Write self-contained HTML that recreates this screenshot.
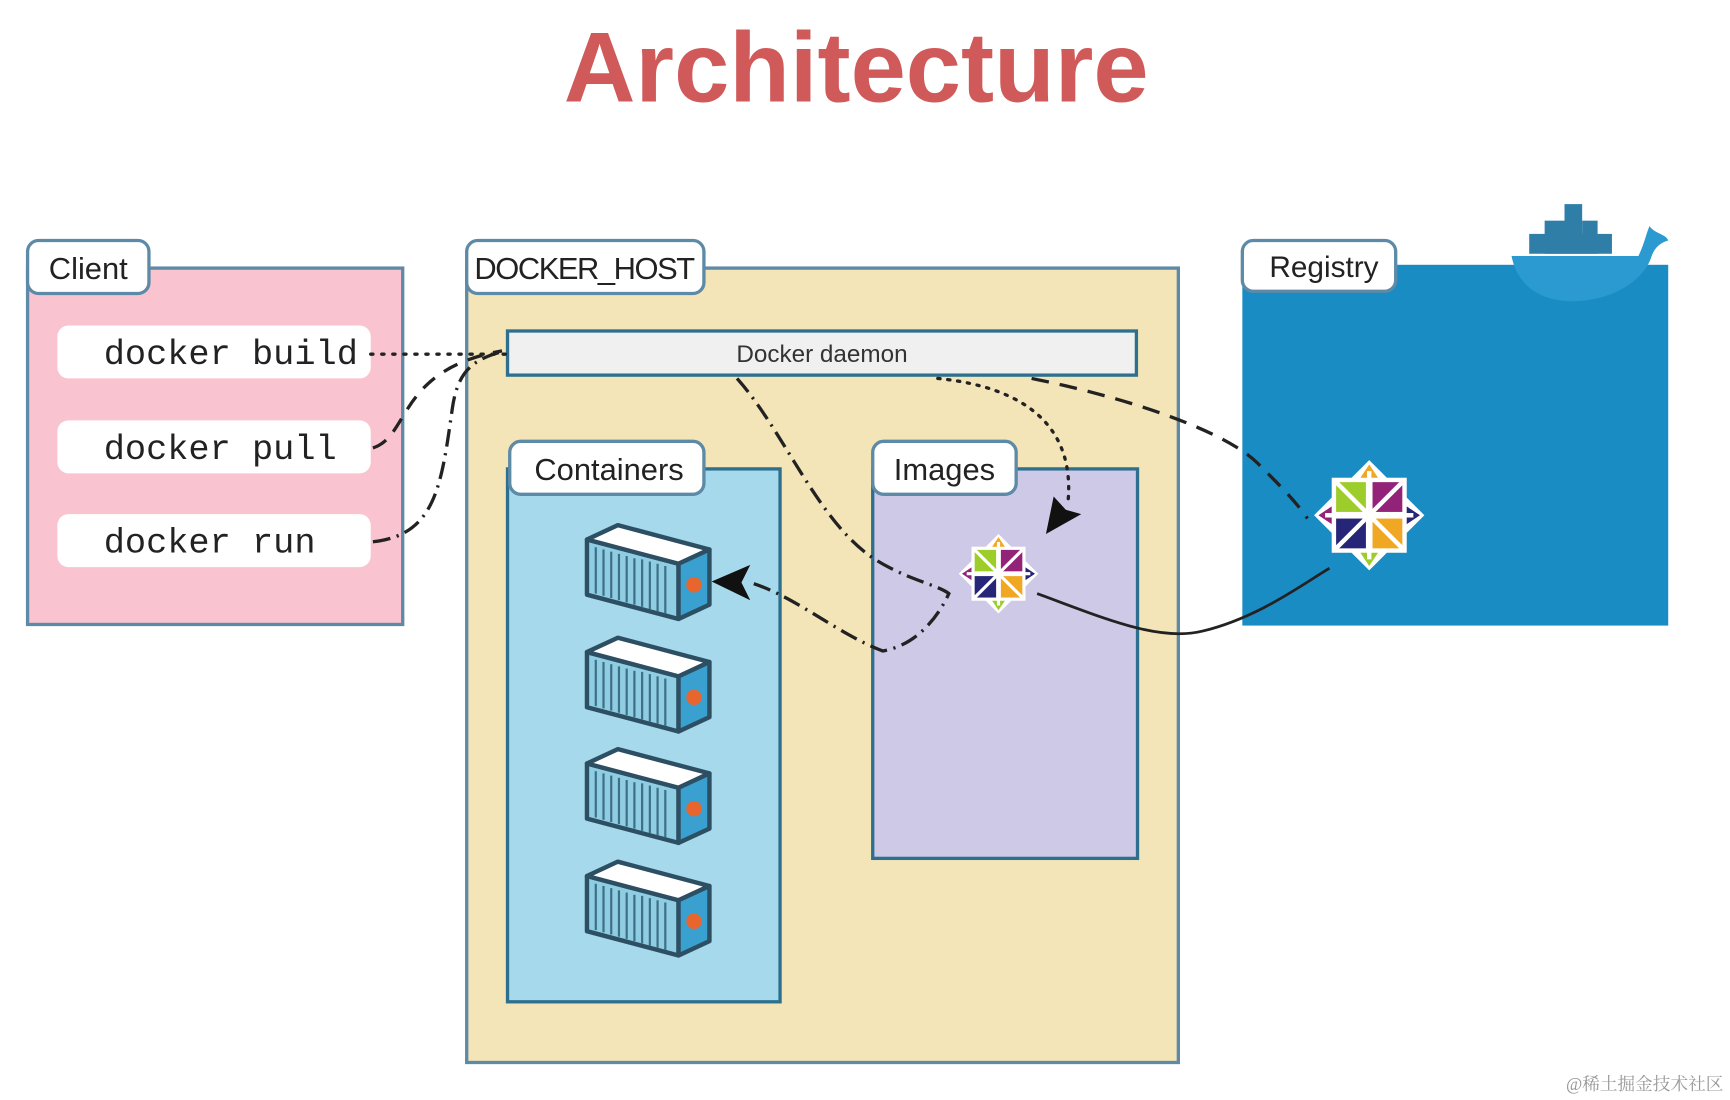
<!DOCTYPE html>
<html><head><meta charset="utf-8"><style>
html,body{margin:0;padding:0;background:#fff;}
svg{display:block;}
</style></head><body>
<svg width="1730" height="1100" viewBox="0 0 1568 997" preserveAspectRatio="none" xmlns="http://www.w3.org/2000/svg">
<defs>
<g id="cont">
  <polygon points="0,13 83,35 83,85 0,63" fill="#8fcde3" stroke="#2d4f63" stroke-width="4" stroke-linejoin="round"/>
  <g stroke="#3e6f86" stroke-width="2">
    <line x1="8" y1="20" x2="8" y2="62"/><line x1="15" y1="22" x2="15" y2="64"/><line x1="22" y1="24" x2="22" y2="66"/><line x1="29" y1="26" x2="29" y2="68"/><line x1="36" y1="28" x2="36" y2="70"/><line x1="43" y1="30" x2="43" y2="72"/><line x1="50" y1="31" x2="50" y2="74"/><line x1="57" y1="33" x2="57" y2="76"/><line x1="64" y1="35" x2="64" y2="78"/><line x1="71" y1="37" x2="71" y2="80"/>
  </g>
  <polygon points="0,13 28,0 111,22 83,35" fill="#fff" stroke="#2d4f63" stroke-width="4" stroke-linejoin="round"/>
  <polygon points="83,35 111,22 111,72 83,85" fill="#3aa0cf" stroke="#2d4f63" stroke-width="4" stroke-linejoin="round"/>
  <circle cx="97" cy="54" r="7" fill="#e8652e"/>
</g>
<g id="centos">
  <polygon points="0,-50 50,0 0,50 -50,0" fill="#fff"/>
  <rect x="-34" y="-34" width="68" height="68" fill="#fff"/>
  <rect x="-30" y="-30" width="27" height="27" fill="#9ccd2a"/>
  <rect x="3" y="-30" width="27" height="27" fill="#932279"/>
  <rect x="-30" y="3" width="27" height="27" fill="#262577"/>
  <rect x="3" y="3" width="27" height="27" fill="#efa724"/>
  <polygon points="0,-46 -8,-34 8,-34" fill="#efa724"/>
  <polygon points="46,0 34,-8 34,8" fill="#262577"/>
  <polygon points="0,46 -8,34 8,34" fill="#9ccd2a"/>
  <polygon points="-46,0 -34,-8 -34,8" fill="#932279"/>
  <g stroke="#fff" stroke-width="4">
    <line x1="-30" y1="-30" x2="30" y2="30"/><line x1="30" y1="-30" x2="-30" y2="30"/>
    <line x1="0" y1="-40" x2="0" y2="40"/><line x1="-40" y1="0" x2="40" y2="0"/>
  </g>
</g>
</defs>
<rect width="1568" height="997" fill="#fff"/>
<text x="776" y="92" text-anchor="middle" font-family="Liberation Sans, sans-serif" font-weight="bold" font-size="90" fill="#d05a5a">Architecture</text>

<!-- Client -->
<rect x="25" y="243" width="340" height="323" fill="#f9c3cf" stroke="#5d8aa6" stroke-width="3"/>
<rect x="25" y="218" width="110" height="48" rx="10" fill="#fff" stroke="#5d8aa6" stroke-width="3"/>
<text x="80" y="253" text-anchor="middle" font-family="Liberation Sans, sans-serif" font-size="28" fill="#222">Client</text>
<g font-family="Liberation Mono, monospace" font-size="32" fill="#222">
<rect x="52" y="295" width="284" height="48" rx="10" fill="#fff"/>
<text x="94" y="330">docker build</text>
<rect x="52" y="381" width="284" height="48" rx="10" fill="#fff"/>
<text x="94" y="416">docker pull</text>
<rect x="52" y="466" width="284" height="48" rx="10" fill="#fff"/>
<text x="94" y="501">docker run</text>
</g>

<!-- Docker host -->
<rect x="423" y="243" width="645" height="720" fill="#f3e5b8" stroke="#5d8aa6" stroke-width="3"/>
<rect x="423" y="218" width="215" height="48" rx="10" fill="#fff" stroke="#5d8aa6" stroke-width="3"/>
<text x="530" y="253" text-anchor="middle" font-family="Liberation Sans, sans-serif" font-size="28" fill="#222" textLength="200">DOCKER_HOST</text>
<rect x="460" y="300" width="570" height="40" fill="#f0f0f0" stroke="#2d6f8e" stroke-width="3"/>
<text x="745" y="328" text-anchor="middle" font-family="Liberation Sans, sans-serif" font-size="22" fill="#333">Docker daemon</text>

<rect x="460" y="425" width="247" height="483" fill="#a6d9ec" stroke="#2d6f8e" stroke-width="3"/>
<rect x="462" y="400" width="176" height="48" rx="10" fill="#fff" stroke="#5d8aa6" stroke-width="3"/>
<text x="552" y="435" text-anchor="middle" font-family="Liberation Sans, sans-serif" font-size="28" fill="#222">Containers</text>

<rect x="791" y="425" width="240" height="353" fill="#cfc9e8" stroke="#2d6f8e" stroke-width="3"/>
<rect x="791" y="400" width="130" height="48" rx="10" fill="#fff" stroke="#5d8aa6" stroke-width="3"/>
<text x="856" y="435" text-anchor="middle" font-family="Liberation Sans, sans-serif" font-size="28" fill="#222">Images</text>

<use href="#cont" x="532" y="476"/>
<use href="#cont" x="532" y="578"/>
<use href="#cont" x="532" y="679"/>
<use href="#cont" x="532" y="781"/>

<!-- Registry -->
<rect x="1126" y="240" width="386" height="327" fill="#1a8cc4"/>
<!-- whale -->
<g fill="#2f7ea8">
<rect x="1418" y="185" width="16" height="45"/>
<rect x="1400" y="200" width="18" height="30"/>
<rect x="1434" y="200" width="14" height="30"/>
<rect x="1386" y="212" width="75" height="18"/>
</g>
<path d="M1370,232 L1485,232 C1490,222 1492,212 1495,205 C1500,212 1510,212 1512,218 C1505,220 1500,224 1497,232 C1490,255 1460,273 1425,273 C1395,273 1375,258 1370,232Z" fill="#2a9ad0"/>
<rect x="1126" y="218" width="139" height="46" rx="10" fill="#fff" stroke="#5d8aa6" stroke-width="3"/>
<text x="1200" y="251" text-anchor="middle" font-family="Liberation Sans, sans-serif" font-size="27" fill="#222">Registry</text>

<use href="#centos" transform="translate(1241,467)"/>
<use href="#centos" transform="translate(905,520) scale(0.72)"/>

<!-- connectors -->
<g fill="none" stroke="#222" stroke-width="3">
<path d="M336,321 L458,321" stroke-dasharray="2,8" stroke-linecap="round"/>
<path d="M338,406 C372,395 360,335 455,318" stroke-dasharray="14,10"/>
<path d="M338,491 C395,485 400,440 410,370 C415,335 430,325 458,318" stroke-dasharray="16,6,2,6"/>
<path d="M668,343 C710,390 740,470 790,505 C820,525 850,530 860,538 C850,560 830,585 800,590 C760,575 720,540 680,528" stroke-dasharray="16,6,2,6"/>
<path d="M850,343 C920,350 975,380 968,455" stroke-dasharray="2,7" stroke-linecap="round"/>
<path d="M935,343 C1020,360 1110,390 1140,420 C1160,440 1175,455 1185,470" stroke-dasharray="16,10"/>
<path d="M940,538 C1000,560 1050,582 1090,572 C1140,560 1180,530 1205,515" stroke-width="2.5"/>
</g>
<polygon points="645,527 680,512 672,528 680,544" fill="#111"/>
<polygon points="948,484 955,450 966,462 980,466" fill="#111"/>

<text x="1562" y="988" text-anchor="end" font-family="Liberation Serif, 'Noto Serif CJK SC', serif" font-size="16" fill="#999">@稀土掘金技术社区</text>
</svg>
</body></html>
